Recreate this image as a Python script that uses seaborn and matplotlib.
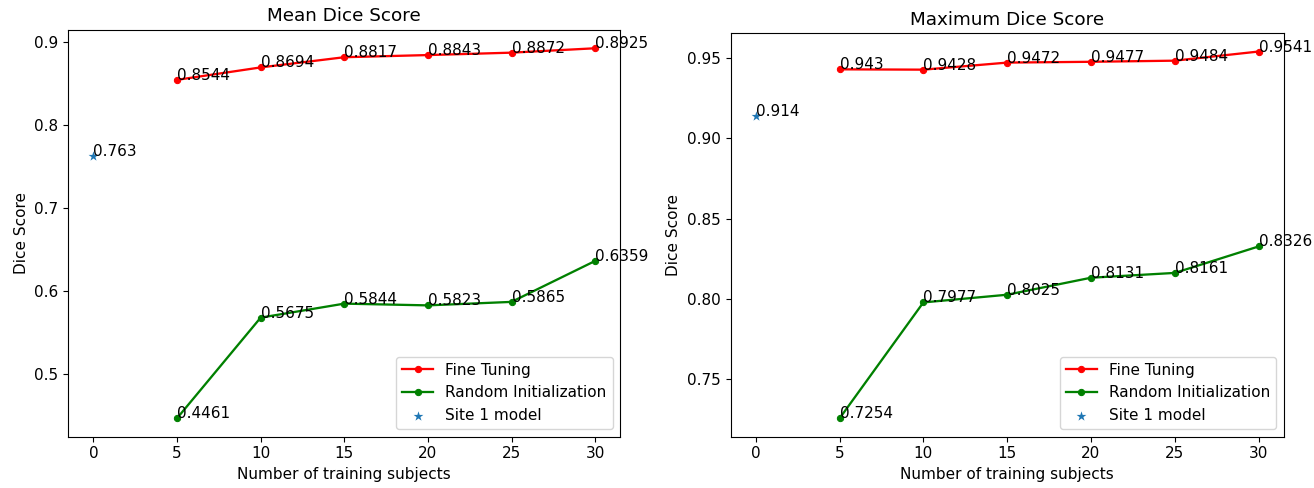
import matplotlib
matplotlib.use("Agg")
import matplotlib.pyplot as plt
import seaborn as sns

# Dados
subjects = [5, 10, 15, 20, 25, 30]
mean_fine_tuning = [0.8544, 0.8694, 0.8817, 0.8843, 0.8872, 0.8925]
mean_random_init = [0.4461, 0.5675, 0.5844, 0.5823, 0.5865, 0.6359]
max_fine_tuning = [0.943, 0.9428, 0.9472, 0.9477, 0.9484, 0.9541]
max_random_init = [0.7254, 0.7977, 0.8025, 0.8131, 0.8161, 0.8326]
site1_x = [0]
site1_mean = [0.763]
site1_max = [0.914]

panels = [
    ("Mean Dice Score", mean_fine_tuning, mean_random_init, site1_mean),
    ("Maximum Dice Score", max_fine_tuning, max_random_init, site1_max),
]

plt.rcParams["font.size"] = 11

fig, axes = plt.subplots(1, 2, figsize=(13.14, 4.88), dpi=100)

for ax, (title, ft, ri, site) in zip(axes, panels):
    sns.lineplot(x=subjects, y=ft, color="red", marker=".", markersize=9,
                 markeredgecolor="red", linewidth=1.65, label="Fine Tuning", ax=ax)
    sns.lineplot(x=subjects, y=ri, color="green", marker=".", markersize=9,
                 markeredgecolor="green", linewidth=1.65, label="Random Initialization", ax=ax)
    sns.scatterplot(x=site1_x, y=site, marker="*", s=55, color="tab:blue",
                    linewidth=0, label="Site 1 model", ax=ax)

    # Rótulos dos valores
    for x, v in zip(subjects, ft):
        ax.text(x, v, str(v), fontsize=11)
    for x, v in zip(subjects, ri):
        ax.text(x, v, str(v), fontsize=11)
    ax.text(site1_x[0], site[0], str(site[0]), fontsize=11)

    ax.set_title(title)
    ax.set_xlabel("Number of training subjects")
    ax.set_ylabel("Dice Score")
    ax.set_xticks([0, 5, 10, 15, 20, 25, 30])
    ax.legend(loc="lower right")

axes[0].set_position([0.052, 0.105, 0.420, 0.834])
axes[1].set_position([0.556, 0.105, 0.421, 0.827])

plt.savefig("out.png")
plt.close()
